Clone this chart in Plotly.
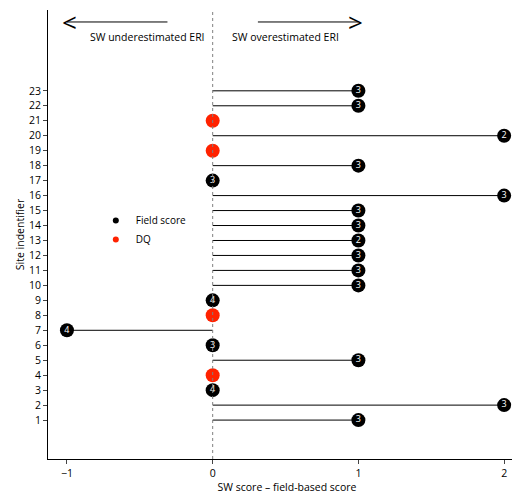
import plotly.graph_objects as go

sites = list(range(1, 24))
diff = [1, 2, 0, 0, 1, 0, -1, 0, 0, 1, 1, 1, 1, 1, 1, 2, 0, 1, 0, 2, 0, 1, 1]
field = ["3", "3", "4", "DQ", "3", "3", "4", "DQ", "4", "3", "3", "3", "2", "3", "3", "3",
         "3", "3", "DQ", "2", "DQ", "3", "3"]

fig = go.Figure()
for s, d, f in zip(sites, diff, field):
    if d != 0:
        fig.add_trace(go.Scatter(x=[0, d], y=[s, s], mode="lines",
                                 line=dict(color="black", width=1), showlegend=False))

sx = [d for d, f in zip(diff, field) if f != "DQ"]
sy = [s for s, f in zip(sites, field) if f != "DQ"]
st = [f for f in field if f != "DQ"]
dx = [d for d, f in zip(diff, field) if f == "DQ"]
dy = [s for s, f in zip(sites, field) if f == "DQ"]

fig.add_trace(go.Scatter(x=sx, y=sy, mode="markers+text", text=st,
                         marker=dict(color="black", size=14),
                         textfont=dict(color="white", size=9), showlegend=False))
fig.add_trace(go.Scatter(x=dx, y=dy, mode="markers",
                         marker=dict(color="#ff2200", size=14), showlegend=False))
# legend entries
fig.add_trace(go.Scatter(x=[None], y=[None], mode="markers", name="Field score",
                         marker=dict(color="black", size=6)))
fig.add_trace(go.Scatter(x=[None], y=[None], mode="markers", name="DQ",
                         marker=dict(color="#ff2200", size=6)))

fig.add_shape(type="line", x0=0, x1=0, y0=-1.6, y1=28.4, line=dict(color="gray", width=1, dash="dot"))

fig.add_annotation(x=-1.0, y=27.6, ax=-0.3, ay=27.6, xref="x", yref="y", axref="x", ayref="y",
                   showarrow=True, arrowhead=0, arrowwidth=1, arrowcolor="black", text="")
fig.add_annotation(x=-0.98, y=27.6, text="<", showarrow=False, font=dict(size=26, color="black"),
                   xanchor="center")
fig.add_annotation(x=1.0, y=27.6, ax=0.3, ay=27.6, xref="x", yref="y", axref="x", ayref="y",
                   showarrow=True, arrowhead=0, arrowwidth=1, arrowcolor="black", text="")
fig.add_annotation(x=0.98, y=27.6, text=">", showarrow=False, font=dict(size=26, color="black"),
                   xanchor="center")
fig.add_annotation(x=-0.45, y=26.6, text="SW underestimated ERI", showarrow=False,
                   font=dict(size=10.5, color="black"))
fig.add_annotation(x=0.5, y=26.6, text="SW overestimated ERI", showarrow=False,
                   font=dict(size=10.5, color="black"))

fig.update_layout(
    width=520, height=491, plot_bgcolor="white", paper_bgcolor="white",
    margin=dict(l=40, r=2, t=2, b=40),
    font=dict(family="Open Sans", size=10.5, color="black"),
    legend=dict(x=0.1, y=0.51, xanchor="left", yanchor="middle", bgcolor="rgba(0,0,0,0)",
                font=dict(size=10), itemwidth=30, tracegroupgap=0),
    xaxis=dict(range=[-1.13, 2.15], tickvals=[-1, 0, 1, 2], showgrid=False, zeroline=False,
               showline=True, linecolor="black", ticks="outside", ticklen=4, automargin=False,
               title=dict(text="SW score – field-based score", font=dict(size=10.5), standoff=2)),
    yaxis=dict(range=[-1.6, 28.4], tickvals=sites, showgrid=False, zeroline=False,
               showline=True, linecolor="black", ticks="outside", ticklen=4, automargin=False,
               title=dict(text="Site indentifier", font=dict(size=10.5), standoff=2)),
)
fig.write_html("out.html")
